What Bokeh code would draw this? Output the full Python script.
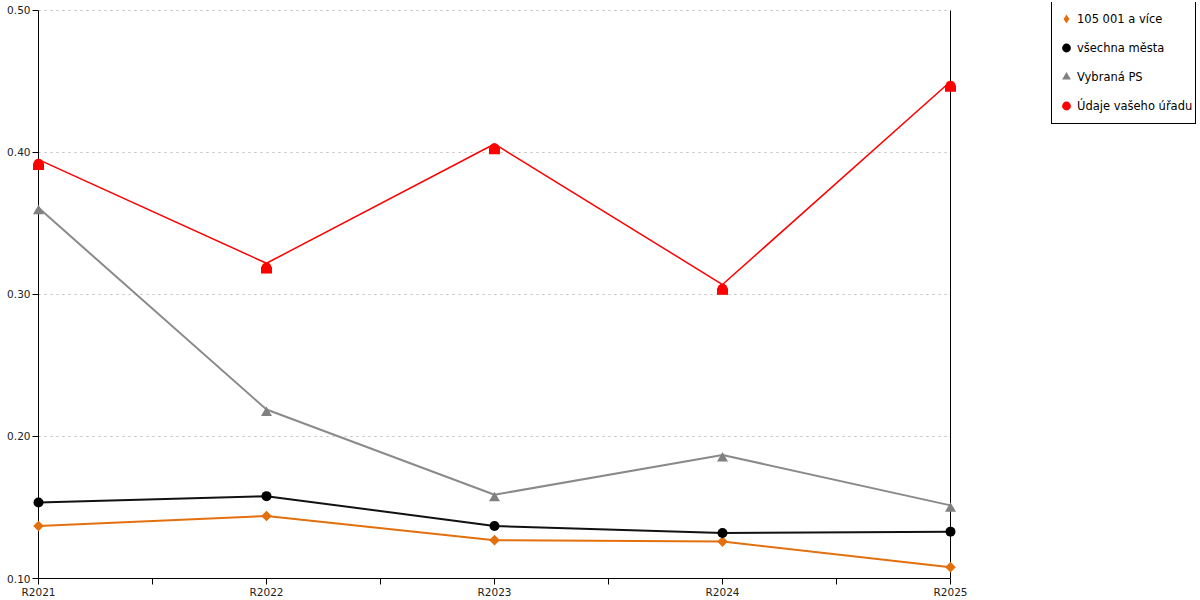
import math
from bokeh.plotting import figure
from bokeh.models import (Range1d, LinearAxis, FixedTicker, Legend, LegendItem,
                          NumeralTickFormatter)
from bokeh.embed import file_html
from bokeh.resources import INLINE

# ---------------- data ----------------
categories = ["R2021", "R2022", "R2023", "R2024", "R2025"]
series_names = ["105 001 a více", "všechna města", "Vybraná PS", "Údaje vašeho úřadu"]
big_cities = [0.137, 0.144, 0.127, 0.126, 0.108]      # 105 001 a více
all_cities = [0.1535, 0.158, 0.137, 0.132, 0.133]     # všechna města
selected_ps = [0.361, 0.219, 0.159, 0.187, 0.1515]    # Vybraná PS
your_office = [0.395, 0.322, 0.406, 0.307, 0.450]     # Údaje vašeho úřadu
y_ticks = [0.10, 0.20, 0.30, 0.40, 0.50]

# ---------------- styling ----------------
ORANGE = "#E2700F"
BLACK = "#111111"
GRAY = "#8A8A8A"
RED = "#FF0000"
FONT = "DejaVu Sans"

xs = list(range(len(categories)))
minor_x = [i + 0.5 for i in xs[:-1]]
n_y = len(y_ticks)

# geometry (pixels)
W, H = 1200, 600
LEFT, TOP, BOTTOM = 32, 2, 21          # frame borders
AXIS_X = 38                            # where the first category sits
LAST_X = 950                           # where the last category sits
TOP_TICK_Y = 10                        # where the top tick sits
FRAME_W = W - LEFT
FRAME_H = H - TOP - BOTTOM

px_per_x = (LAST_X - AXIS_X) / (xs[-1] - xs[0])
x_lo = xs[0] - (AXIS_X - LEFT) / px_per_x
x_hi = x_lo + FRAME_W / px_per_x

y_lo = y_ticks[0]
px_per_y = (FRAME_H - (TOP_TICK_Y - TOP)) / (y_ticks[-1] - y_ticks[0])
y_hi = y_lo + FRAME_H / px_per_y

p = figure(width=W, height=H,
           x_range=Range1d(x_lo, x_hi), y_range=Range1d(y_lo, y_hi),
           x_axis_location=None, y_axis_location=None,
           toolbar_location=None, output_backend="svg",
           min_border_left=LEFT, min_border_right=0,
           min_border_top=TOP, min_border_bottom=BOTTOM,
           outline_line_color=None, background_fill_color="white")
p.center = []


def shifted(px):
    d = px / px_per_y
    return Range1d(y_lo + d, y_hi + d)


p.extra_y_ranges = {"tri": shifted(3.3), "roof": shifted(4.2), "walls": shifted(7.0)}

# dotted horizontal grid between first and last category
p.segment(x0=[xs[0]] * n_y, y0=y_ticks, x1=[xs[-1]] * n_y, y1=y_ticks,
          line_color="#BEBEBE", line_dash="2 4", line_width=1)
# y axis line at the first category, right border line at the last one
p.segment(x0=[xs[0], xs[-1]], y0=[y_ticks[0]] * 2, x1=[xs[0], xs[-1]], y1=[y_ticks[-1]] * 2,
          line_color="black", line_width=1)

# y axis: labels + ticks (ticks reach in to the first category)
yaxis = LinearAxis(ticker=FixedTicker(ticks=y_ticks, minor_ticks=[]),
                   formatter=NumeralTickFormatter(format="0.00"),
                   axis_line_color=None,
                   major_tick_out=0, major_tick_in=AXIS_X - LEFT,
                   minor_tick_out=0, minor_tick_in=0,
                   major_tick_line_color="black", minor_tick_line_color=None,
                   major_label_standoff=2,
                   major_label_text_font=FONT, major_label_text_font_size="10.5px",
                   major_label_text_color="#222222")
p.add_layout(yaxis, "left")

xaxis = LinearAxis(ticker=FixedTicker(ticks=xs, minor_ticks=minor_x),
                   bounds=(xs[0], xs[-1]),
                   major_label_overrides={i: c for i, c in zip(xs, categories)},
                   axis_line_color="black", axis_line_width=1,
                   major_tick_out=6, major_tick_in=0,
                   minor_tick_out=6, minor_tick_in=0,
                   major_tick_line_color="black", minor_tick_line_color="black",
                   major_label_standoff=1,
                   major_label_text_font=FONT, major_label_text_font_size="10.5px",
                   major_label_text_color="#222222")
p.add_layout(xaxis, "below")

# lines
p.line(xs, big_cities, line_color=ORANGE, line_width=2)
p.line(xs, all_cities, line_color=BLACK, line_width=2)
p.line(xs, selected_ps, line_color=GRAY, line_width=2)
p.line(xs, your_office, line_color=RED, line_width=1.5)

# markers
r_or = p.scatter(xs, big_cities, marker="diamond", size=9, fill_color=ORANGE, line_color=None)
p.scatter(xs, big_cities, marker="square", size=7.5, angle=math.pi / 4,
          fill_color=ORANGE, line_color=None)
r_bk = p.scatter(xs, all_cities, marker="circle", size=10, fill_color="black", line_color=None)
r_gr = p.scatter(xs, selected_ps, marker="triangle", size=11, fill_color="#808080",
                 line_color=None, y_range_name="tri")
r_rd = p.scatter(xs, your_office, marker="circle", size=10, fill_color=RED, line_color=None,
                 y_range_name="roof")
p.rect(xs, your_office, width=11, height=6.6, width_units="screen", height_units="screen",
       fill_color=RED, line_color=None, y_range_name="walls")

legend = Legend(items=[LegendItem(label=series_names[0], renderers=[r_or]),
                       LegendItem(label=series_names[1], renderers=[r_bk]),
                       LegendItem(label=series_names[2], renderers=[r_gr]),
                       LegendItem(label=series_names[3], renderers=[r_rd])],
                location=(1051 - LEFT, H - BOTTOM - 125),
                border_line_color="black", border_line_width=1, border_line_alpha=1,
                background_fill_color="white", background_fill_alpha=1,
                padding=3, spacing=0, margin=0,
                glyph_width=22, glyph_height=29, label_height=29, label_standoff=0,
                label_text_font=FONT, label_text_font_size="11.5px",
                label_text_color="black")
p.add_layout(legend, "center")

open("out.html", "w").write(file_html(p, INLINE, title="chart"))
